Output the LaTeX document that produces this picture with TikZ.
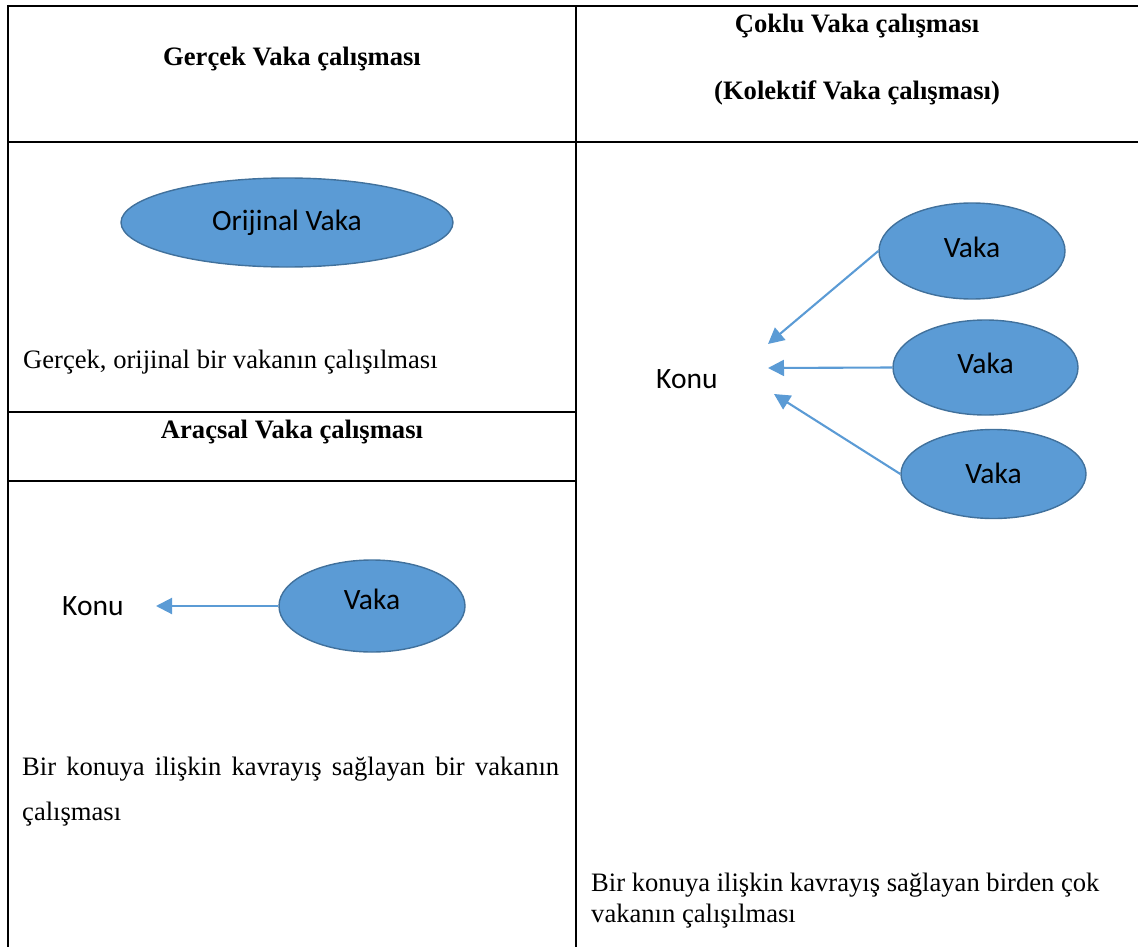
\documentclass[tikz,border=0pt]{standalone}
\usepackage{fontspec}
\setmainfont{Liberation Serif}
\newfontfamily\calibri{Carlito}
\usetikzlibrary{shapes.geometric,arrows.meta}
\definecolor{vfill}{HTML}{5B9BD5}
\definecolor{vedge}{HTML}{41719C}
\definecolor{varrow}{HTML}{5B9BD5}
\tikzset{
  tbl/.style={line width=2.2pt,black},
  vaka/.style={ellipse,draw=vedge,fill=vfill,line width=1.4pt,inner sep=0pt},
  vtext/.style={font=\calibri\fontsize{29.5}{35}\selectfont,anchor=base,inner sep=0pt},
  serif/.style={font=\fontsize{26.6}{32}\selectfont,anchor=base,inner sep=0pt},
  serifb/.style={font=\bfseries\fontsize{26.6}{32}\selectfont,anchor=base,inner sep=0pt},
  link/.style={draw=varrow,line width=2.1pt,-{Triangle[length=16pt,width=16pt]}}
}
\begin{document}
\begin{tikzpicture}[x=1pt,y=-1pt]
\useasboundingbox (0,0) rectangle (1138,947);
% table
\draw[tbl] (8,6) -- (1138,6);
\draw[tbl] (8,5) -- (8,947);
\draw[tbl] (576,6) -- (576,947);
\draw[tbl] (8,142) -- (1138,142);
\draw[tbl] (8,412) -- (576,412);
\draw[tbl] (8,481) -- (576,481);
% headers
\node[serifb] (h1) at (292,66) {Gerçek Vaka çalışması};
\node[serifb] (h2) at (857,33) {Çoklu Vaka çalışması};
\node[serifb] (h3) at (857,100) {(Kolektif Vaka çalışması)};
\node[serifb] (h4) at (292,438) {Araçsal Vaka çalışması};
% cell 1
\node[vaka,minimum width=332pt,minimum height=89pt] (ov) at (287,222.5) {};
\node[vtext] (ovt) at (287,230) {Orijinal Vaka};
\node[serif,anchor=base west] (d1) at (23,368) {Gerçek, orijinal bir vakanın çalışılması};
% cell 2
\node[vaka,minimum width=186pt,minimum height=92pt] (lv) at (372,606) {};
\node[vtext] (lvt) at (372,609) {Vaka};
\node[vtext,anchor=base west] (lk) at (62,615) {Konu};
\coordinate (lkt) at (156,606);
\draw[link] (lv.west) -- (lkt);
\node[serif,anchor=base west] (d2a) at (22,775) {\hbox to 537pt{\spaceskip=0pt plus 1fil Bir konuya ilişkin kavrayış sağlayan bir vakanın}};
\node[serif,anchor=base west] (d2b) at (22,820) {çalışması};
% right cell
\node[vaka,minimum width=186pt,minimum height=96pt] (v1) at (972,251) {};
\node[vtext] (v1t) at (972,257) {Vaka};
\node[vaka,minimum width=185pt,minimum height=95pt] (v2) at (985.5,367.5) {};
\node[vtext] (v2t) at (985.5,373) {Vaka};
\node[vaka,minimum width=185pt,minimum height=89pt] (v3) at (993.5,474) {};
\node[vtext] (v3t) at (993.5,483) {Vaka};
\node[vtext,anchor=base west] (rk) at (656,388) {Konu};
\coordinate (t1) at (768,344);
\coordinate (t2) at (768,368);
\coordinate (t3) at (774,394);
\draw[link] (v1.west) -- (t1);
\draw[link] (v2.west) -- (t2);
\draw[link] (v3.west) -- (t3);
\node[serif,anchor=base west] (d3a) at (591,891) {Bir konuya ilişkin kavrayış sağlayan birden çok};
\node[serif,anchor=base west] (d3b) at (591,922) {vakanın çalışılması};
\end{tikzpicture}
\end{document}
